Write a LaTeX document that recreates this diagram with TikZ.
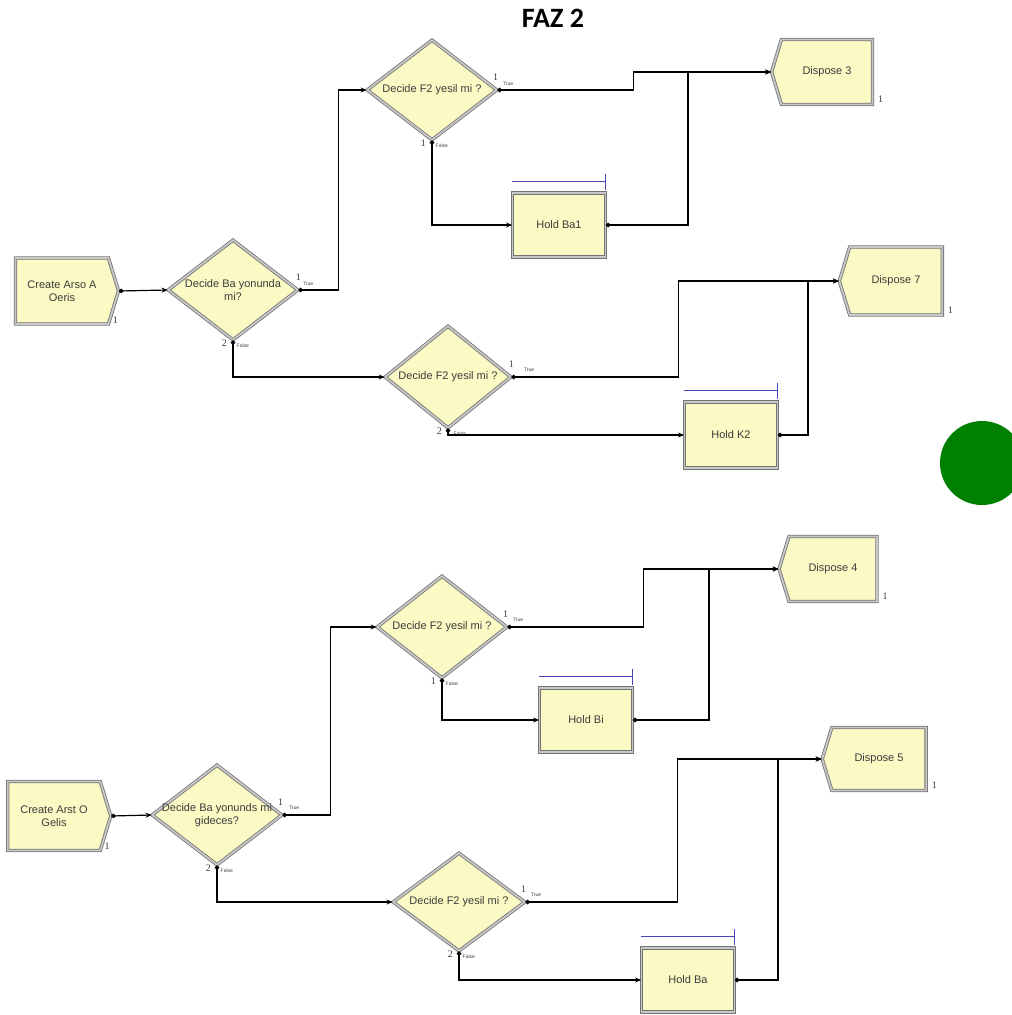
\documentclass[tikz,border=0pt]{standalone}
\usepackage{fontspec}
\setmainfont{Liberation Sans}
\newfontfamily\numfont{Liberation Serif}
\newfontfamily\titlefont{Carlito}
\usetikzlibrary{arrows.meta, positioning, shapes.geometric, shapes.symbols}
\definecolor{cFill}{RGB}{251,249,196}
\definecolor{cEdge}{RGB}{115,115,115}
\definecolor{cBand}{RGB}{200,200,200}
\definecolor{cQueue}{RGB}{70,70,190}
\definecolor{cText}{RGB}{60,60,60}
\definecolor{cGo}{RGB}{0,128,0}

\begin{document}
\begin{tikzpicture}[
  x=1pt, y=-1pt,
  module/.style={draw=cEdge, double=cBand, double distance=1.8pt, line width=0.8pt,
                 fill=cFill, inner sep=0pt, align=center, text=cText,
                 font=\fontsize{11}{13}\selectfont},
  create/.style={module, shape=signal, signal to=east, signal from=nowhere,
                 signal pointer angle=146},
  dispose/.style={module, shape=signal, signal to=west, signal from=nowhere,
                  signal pointer angle=146},
  decide/.style={module, shape=diamond, minimum width=130pt, minimum height=100pt},
  dtext/.style={align=center, text=cText, font=\fontsize{11}{13}\selectfont, inner sep=0pt},
  hold/.style={module, rectangle, minimum width=93pt, minimum height=64pt},
  queue/.style={draw=cQueue, line width=1.6pt, -{Bar[width=16pt, line width=1.4pt]}},
  conn/.style={draw=black, line width=1.2pt,
               {Circle[length=4.5pt]}-{Stealth[length=6pt, width=5pt]}},
  num/.style={font=\numfont\fontsize{10}{12}\selectfont, text=cText, inner sep=1pt},
  tag/.style={font=\fontsize{5}{6}\selectfont, text=cText, inner sep=0.5pt}
]
\useasboundingbox (0,0) rectangle (1012,1015);

%% Title
\node[font=\titlefont\bfseries\fontsize{28}{30}\selectfont] (title) at (553,18) {FAZ 2};

%%=============================================================================
%% UPPER MODEL
%%=============================================================================

\node[create, minimum width=103pt, minimum height=66pt] (create_a) at (62,291)
  {Create Arso A\\Oeris};
\node[decide, label={[dtext]center:{Decide Ba yonunda\\mi?}}] (dec_a) at (233,290) {};

\node[decide, label={[dtext]center:{Decide F2 yesil mi ?}}] (f2_a1) at (432,90) {};
\node[decide, minimum width=126pt, minimum height=102pt,
      label={[dtext]center:{Decide F2 yesil mi ?}}] (f2_a2) at (448,377) {};

\node[hold] (hold_a1) at (559,225) {Hold Ba1};
\node[hold, minimum height=66pt] (hold_a2) at (731,435) {Hold K2};

\node[dispose, minimum width=101pt, minimum height=65pt] (disp_a1) at (827,72) {Dispose 3};
\node[dispose, minimum width=103pt, minimum height=68pt] (disp_a2) at (896,281) {Dispose 7};

%% Queues
\draw[queue] ([yshift=11pt]hold_a1.north west) -- ([yshift=11pt]hold_a1.north east);
\draw[queue] ([yshift=11pt]hold_a2.north west) -- ([yshift=11pt]hold_a2.north east);

%% Connectors
\draw[conn] (create_a.east) -- (dec_a.west);
\draw[conn] (dec_a.east)    -- ++(40,0) |- (f2_a1.west);
\draw[conn] (dec_a.south)   |- (f2_a2.west);
\draw[conn] (f2_a1.east)    -- ++(136,0) |- (disp_a1.west);
\draw[conn] (f2_a1.south)   |- (hold_a1.west);
\draw[conn] (hold_a1.east)  -- ++(82,0) |- (disp_a1.west);
\draw[conn] (f2_a2.east)    -- ++(167,0) |- (disp_a2.west);
\draw[conn] (f2_a2.south)   |- (hold_a2.west);
\draw[conn] (hold_a2.east)  -- ++(30,0) |- (disp_a2.west);

%% Exit numbers
\node[num, above right=0pt and 3pt of create_a.south east] (n_create_a) {1};
\node[num, above right=0pt and 4pt of disp_a1.south east] (n_disp_a1) {1};
\node[num, above right=0pt and 4pt of disp_a2.south east] (n_disp_a2) {1};

\node[num, above=8pt of dec_a.east] (n_dec_a1) {1};
\node[tag, above right=4pt and 4pt of dec_a.east] (t_dec_a1) {True};
\node[num, below left=-2pt and 5pt of dec_a.south] (n_dec_a2) {2};
\node[tag, below right=3pt and 3pt of dec_a.south] (t_dec_a2) {False};

\node[num, above left=8pt and -2pt of f2_a1.east] (n_f2_a1) {1};
\node[tag, above right=4pt and 5pt of f2_a1.east] (t_f2_a1) {True};
\node[num, below left=-2pt and 5pt of f2_a1.south] (n_f2_a1b) {1};
\node[tag, below right=3pt and 3pt of f2_a1.south] (t_f2_a1b) {False};

\node[num, above=8pt of f2_a2.east] (n_f2_a2) {1};
\node[tag, above right=5pt and 12pt of f2_a2.east] (t_f2_a2) {True};
\node[num, below left=-2pt and 5pt of f2_a2.south] (n_f2_a2b) {2};
\node[tag, below right=3pt and 5pt of f2_a2.south] (t_f2_a2b) {False};

%%=============================================================================
%% LOWER MODEL
%%=============================================================================

\node[create, minimum width=103pt, minimum height=69pt] (create_b) at (54,816)
  {Create Arst O\\Gelis};
\node[decide, label={[dtext]center:{Decide Ba yonunds mi\\gideces?}}] (dec_b) at (217,815) {};

\node[decide, minimum height=102pt, label={[dtext]center:{Decide F2 yesil mi ?}}]
  (f2_b1) at (442,627) {};
\node[decide, minimum width=132pt, minimum height=98pt,
      label={[dtext]center:{Decide F2 yesil mi ?}}] (f2_b2) at (459,902) {};

\node[hold] (hold_b1) at (586,720) {Hold Bi};
\node[hold] (hold_b2) at (688,980) {Hold Ba};

\node[dispose, minimum width=98pt, minimum height=65pt] (disp_b1) at (833,569) {Dispose 4};
\node[dispose, minimum width=104pt, minimum height=63pt] (disp_b2) at (879,759) {Dispose 5};

%% Queues
\draw[queue] ([yshift=11pt]hold_b1.north west) -- ([yshift=11pt]hold_b1.north east);
\draw[queue] ([yshift=11pt]hold_b2.north west) -- ([yshift=11pt]hold_b2.north east);

%% Connectors
\draw[conn] (create_b.east) -- (dec_b.west);
\draw[conn] (dec_b.east)    -- ++(48,0) |- (f2_b1.west);
\draw[conn] (dec_b.south)   |- (f2_b2.west);
\draw[conn] (f2_b1.east)    -- ++(136,0) |- (disp_b1.west);
\draw[conn] (f2_b1.south)   |- (hold_b1.west);
\draw[conn] (hold_b1.east)  -- ++(76,0) |- (disp_b1.west);
\draw[conn] (f2_b2.east)    -- ++(152,0) |- (disp_b2.west);
\draw[conn] (f2_b2.south)   |- (hold_b2.west);
\draw[conn] (hold_b2.east)  -- ++(43,0) |- (disp_b2.west);

%% Exit numbers
\node[num, above right=0pt and 3pt of create_b.south east] (n_create_b) {1};
\node[num, above right=0pt and 4pt of disp_b1.south east] (n_disp_b1) {1};
\node[num, above right=0pt and 4pt of disp_b2.south east] (n_disp_b2) {1};

\node[num, above left=8pt and -2pt of dec_b.east] (n_dec_b1) {1};
\node[tag, above right=5pt and 6pt of dec_b.east] (t_dec_b1) {True};
\node[num, below left=-2pt and 5pt of dec_b.south] (n_dec_b2) {2};
\node[tag, below right=3pt and 3pt of dec_b.south] (t_dec_b2) {False};

\node[num, above left=8pt and -2pt of f2_b1.east] (n_f2_b1) {1};
\node[tag, above right=5pt and 5pt of f2_b1.east] (t_f2_b1) {True};
\node[num, below left=-2pt and 5pt of f2_b1.south] (n_f2_b1b) {1};
\node[tag, below right=3pt and 3pt of f2_b1.south] (t_f2_b1b) {False};

\node[num, above left=8pt and -2pt of f2_b2.east] (n_f2_b2) {1};
\node[tag, above right=5pt and 5pt of f2_b2.east] (t_f2_b2) {True};
\node[num, below left=-2pt and 5pt of f2_b2.south] (n_f2_b2b) {2};
\node[tag, below right=3pt and 3pt of f2_b2.south] (t_f2_b2b) {False};

%% Green light
\node[circle, fill=cGo, minimum size=84pt, inner sep=0pt] (light) at (982,463) {};

\end{tikzpicture}
\end{document}
